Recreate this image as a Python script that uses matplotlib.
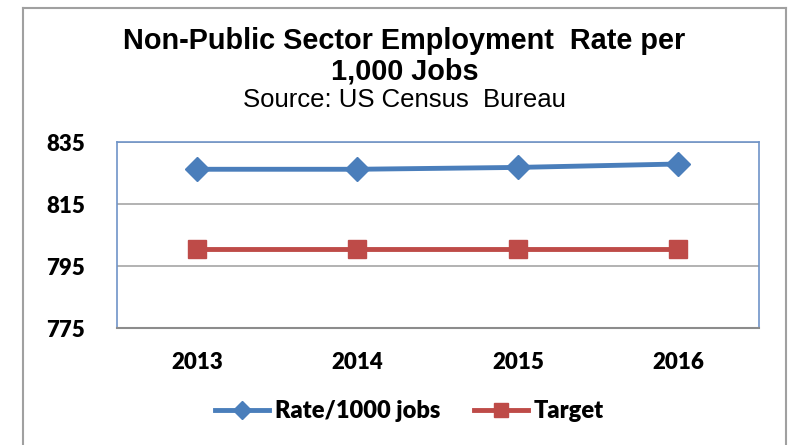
import matplotlib
matplotlib.use('Agg')
import matplotlib.pyplot as plt
from matplotlib.lines import Line2D

years = ['2013', '2014', '2015', '2016']
rate_per_1000 = [826.3, 826.3, 826.9, 828.0]
target = [800.6, 800.6, 800.6, 800.6]
y_ticks = [775, 795, 815, 835]

blue = '#4A7EBB'
red = '#BE4B48'

fig = plt.figure(figsize=(7.93, 4.45), dpi=100)

# chart frame (open at the bottom)
frame = dict(transform=fig.transFigure, color='#A0A0A0', lw=1.5)
fig.add_artist(Line2D([23/793, 23/793], [0, 1 - 8/445], **frame))
fig.add_artist(Line2D([23/793, 786/793], [1 - 8/445, 1 - 8/445], **frame))
fig.add_artist(Line2D([786/793, 786/793], [0, 1 - 8/445], **frame))

ax = fig.add_axes([116.7/793, 1 - 328.3/445, 642/793, 186/445])
x = [i + 0.5 for i in range(len(years))]

ax.plot(x, rate_per_1000, color=blue, lw=3.5, marker='D', markersize=12,
        markeredgecolor=blue, label='Rate/1000 jobs', zorder=3)
ax.plot(x, target, color=red, lw=3.5, marker='s', markersize=12.5,
        markeredgecolor=red, label='Target', zorder=3)

ax.set_xlim(0, 4)
ax.set_ylim(775, 835)
ax.set_yticks(y_ticks)
ax.set_xticks(x)
ax.set_xticklabels(years)
ax.yaxis.grid(True, color='#A6A6A6', lw=1.2)
ax.set_axisbelow(True)
for side in ['left', 'right', 'top']:
    ax.spines[side].set_color('#6F94C8')
    ax.spines[side].set_linewidth(1.2)
ax.spines['bottom'].set_color('#8C8C8C')
ax.spines['bottom'].set_linewidth(1.5)
ax.tick_params(length=0)
ax.tick_params(axis='y', pad=23)
ax.tick_params(axis='x', pad=17)
for lab in ax.get_xticklabels() + ax.get_yticklabels():
    lab.set_fontfamily('Lato')
    lab.set_fontweight('heavy')
    lab.set_fontsize(16)

cx = 404.5 / 793
fig.text(cx, 1 - 41/445, 'Non-Public Sector Employment  Rate per', ha='center', va='center',
         fontsize=20.8, fontweight='bold', family='Liberation Sans')
fig.text(cx, 1 - 71/445, '1,000 Jobs', ha='center', va='center',
         fontsize=20.8, fontweight='bold', family='Liberation Sans')
fig.text(cx, 1 - 100/445, 'Source: US Census  Bureau', ha='center', va='center',
         fontsize=18.5, family='Liberation Sans')

fig.legend(loc='center', bbox_to_anchor=(409.5/793, 1 - 411/445), ncol=2, frameon=False,
           prop={'family': 'Lato', 'weight': 'heavy', 'size': 17}, handlelength=2.3,
           columnspacing=1.4, handletextpad=0.25, markerscale=0.8)

fig.savefig('out.png', dpi=100, facecolor='white')
